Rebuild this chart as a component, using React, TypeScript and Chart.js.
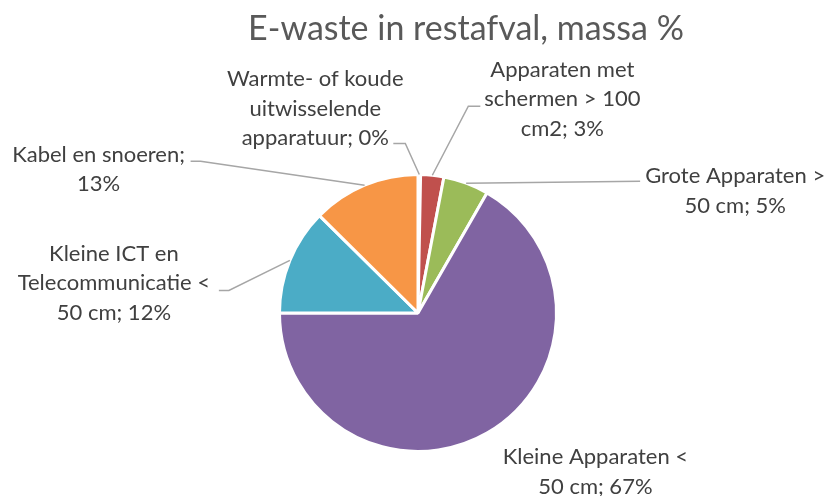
import React, { useEffect, useRef } from "react";
import { Chart, registerables } from "chart.js";

Chart.register(...registerables);

const TITLE = "E-waste in restafval, massa %";
const categories = [
  "Warmte- of koude uitwisselende apparatuur",
  "Apparaten met schermen > 100 cm2",
  "Grote Apparaten > 50 cm",
  "Kleine Apparaten < 50 cm",
  "Kleine ICT en Telecommunicatie < 50 cm",
  "Kabel en snoeren",
];
const values = [0.3, 2.7, 5.3, 66.7, 12.4, 12.6];
const pctLabels = ["0%", "3%", "5%", "67%", "12%", "13%"];
// how the label text wraps (lines), as in the reference
const labelLines = [
  ["Warmte- of koude", "uitwisselende", "apparatuur; 0%"],
  ["Apparaten met", "schermen > 100", "cm2; 3%"],
  ["Grote Apparaten >", "50 cm; 5%"],
  ["Kleine Apparaten <", "50 cm; 67%"],
  ["Kleine ICT en", "Telecommunicatie <", "50 cm; 12%"],
  ["Kabel en snoeren;", "13%"],
];
const colors = ["#4F81BD", "#C0504D", "#9BBB59", "#8064A2", "#4BACC6", "#F79646"];

// layout: label block centre relative to the slice's outer mid point
const labelDx = [-104, 130, 269, 108, -176, -266];
const labelDy = [-66, -76, 8, 39, 23, -16];
// leader line: elbow and end points relative to the slice's outer mid point (null = no leader)
const leaderElbow: ([number, number] | null)[] = [[-14, -31], [36, -69], [174, -2], null, [-61, 30], [-164, -24]];
const leaderEnd: ([number, number] | null)[] = [[-26, -31], [48, -69], [174, -2], null, [-71, 30], [-174, -24]];

const LABEL_FONT = "22px Lato";
const LINE_H = 29.5;

const outLabels = {
  id: "outLabels",
  afterDatasetsDraw(chart: any) {
    const ctx = chart.ctx;
    const meta = chart.getDatasetMeta(0);
    ctx.save();
    meta.data.forEach((arc: any, i: number) => {
      const mid = (arc.startAngle + arc.endAngle) / 2;
      const ex = arc.x + Math.cos(mid) * arc.outerRadius;
      const ey = arc.y + Math.sin(mid) * arc.outerRadius;
      const el = leaderElbow[i];
      const en = leaderEnd[i];
      if (el && en) {
        ctx.beginPath();
        ctx.strokeStyle = "#A6A6A6";
        ctx.lineWidth = 1.5;
        ctx.moveTo(ex, ey);
        ctx.lineTo(ex + el[0], ey + el[1]);
        ctx.lineTo(ex + en[0], ey + en[1]);
        ctx.stroke();
      }
      const lines = labelLines[i];
      const cx = ex + labelDx[i];
      const cy = ey + labelDy[i];
      ctx.fillStyle = "#404040";
      ctx.font = LABEL_FONT;
      ctx.textAlign = "center";
      ctx.textBaseline = "middle";
      lines.forEach((t, k) => {
        ctx.fillText(t, cx, cy + (k - (lines.length - 1) / 2) * LINE_H);
      });
    });
    ctx.restore();
  },
};

const titlePlugin = {
  id: "customTitle",
  afterDraw(chart: any) {
    const ctx = chart.ctx;
    ctx.save();
    ctx.fillStyle = "#595959";
    ctx.font = "34px Lato";
    ctx.textAlign = "center";
    ctx.textBaseline = "alphabetic";
    ctx.fillText(TITLE, 466, 40);
    ctx.restore();
  },
};

export default function App() {
  const ref = useRef<HTMLCanvasElement | null>(null);
  useEffect(() => {
    document.body.style.margin = "0";
    const canvas = ref.current;
    if (!canvas) return;
    const chart = new Chart(canvas, {
      type: "pie",
      data: {
        labels: categories.map((c, i) => c + "; " + pctLabels[i]),
        datasets: [
          {
            data: values,
            backgroundColor: colors,
            borderColor: "#FFFFFF",
            borderWidth: 3,
            hoverOffset: 0,
            offset: 0,
          },
        ],
      },
      options: {
        responsive: false,
        animation: false,
        layout: { padding: { top: 173, bottom: 43, left: 204, right: 195 } },
        plugins: {
          legend: { display: false },
          tooltip: { enabled: false },
          title: { display: false },
        },
        events: [],
      },
      plugins: [outLabels, titlePlugin],
    });
    return () => chart.destroy();
  }, []);
  return (
    <div style={{ width: 827, height: 496, background: "#fff" }}>
      <canvas ref={ref} width={827} height={496} />
    </div>
  );
}
